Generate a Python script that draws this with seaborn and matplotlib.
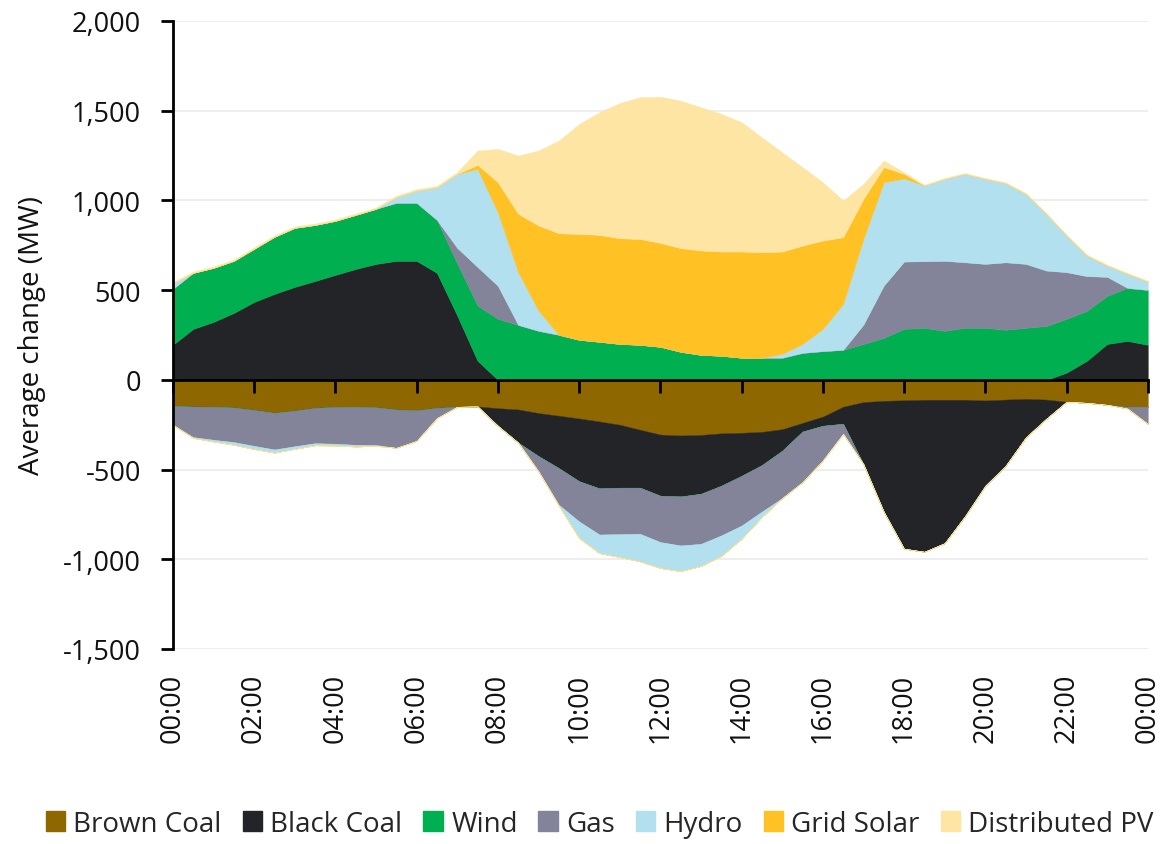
import numpy as np
import seaborn as sns
import matplotlib.pyplot as plt
from matplotlib.patches import Patch

# half-hourly time steps, 00:00 .. 24:00 (hours)
hours = np.arange(49) * 0.5

brown_coal = [-145, -149, -150, -154, -168, -184, -172, -156, -151, -150, -153, -165, -170,
              -156, -150, -148, -158, -165, -185, -200, -215, -232, -250, -278, -305, -310,
              -307, -298, -295, -290, -275, -240, -205, -150, -124, -117, -114, -111, -111,
              -111, -115, -110, -106, -110, -122, -128, -139, -150, -150]
black_coal = [195, 284, 323, 373, 434, 479, 518, 551, 585, 618, 646, 663, 663, 596, 358, 106,
              -98, -185, -240, -292, -350, -373, -351, -323, -341, -340, -328, -292, -240,
              -185, -120, -48, -51, -95, -346, -618, -827, -847, -799, -649, -475, -369, -214,
              -107, 40, 106, 200, 217, 195]
wind = [312, 312, 301, 290, 296, 318, 329, 312, 301, 301, 307, 323, 323, 295, 290, 308, 340,
        306, 273, 251, 223, 212, 200, 195, 184, 156, 139, 134, 123, 123, 123, 150, 160, 167,
        200, 234, 284, 290, 273, 290, 290, 279, 290, 300, 300, 278, 268, 295, 306]
gas = [-105, -170, -184, -193, -200, -204, -198, -197, -205, -212, -210, -214, -170, -57, 87,
       215, 184, 0, -85, -204, -224, -257, -259, -257, -258, -273, -279, -277, -277, -259,
       -264, -282, -193, -56, 108, 291, 375, 371, 390, 365, 356, 376, 356, 309, 260, 194, 106,
       -10, -95]
hydro = [30, -5, -10, -15, -18, -18, -15, -12, -10, -10, -5, 32, 69, 182, 413, 546, 410, 294,
         113, -5, -93, -104, -128, -154, -145, -143, -124, -115, -74, -31, 22, 50, 124, 256,
         478, 576, 464, 422, 457, 493, 474, 441, 390, 316, 204, 115, 63, 79, 47]
grid_solar = [0] * 15 + [23, 167, 325, 474, 566, 590, 596, 589, 590, 579, 578, 582, 581, 592,
                         588, 570, 548, 492, 372, 222, 84, 25] + [0] * 12
distributed_pv = [8] * 14 + [10, 80, 186, 325, 418, 516, 613, 683, 754, 790, 815, 822, 798,
                             767, 721, 640, 553, 437, 325, 204, 84, 37, 9] + [5] * 12

names = ["Brown Coal", "Black Coal", "Wind", "Gas", "Hydro", "Grid Solar", "Distributed PV"]
series = [brown_coal, black_coal, wind, gas, hydro, grid_solar, distributed_pv]
colors = ["#8F6700", "#232427", "#00AF50", "#838499", "#B2E0EE", "#FFC124", "#FFE5A4"]

xtick_hours = np.arange(0, 25, 2)
xtick_labels = [f"{h % 24:02d}:00" for h in xtick_hours]
yticks = np.arange(-1500, 2001, 500)

sns.set_theme(style="white")
plt.rcParams['font.family'] = ['Open Sans', 'DejaVu Sans']

fig = plt.figure(figsize=(11.76, 8.45), dpi=100)
ax = fig.add_axes([0.147, 0.2308, 0.829, 0.7432])

# light gridlines behind the areas
ax.hlines(yticks[yticks != 0], 0, 24, color="#EEEEEE", lw=1.5, zorder=0.5)

# positive and negative parts stacked separately
pos_base = np.zeros(len(hours))
neg_base = np.zeros(len(hours))
for vals, col in zip(series, colors):
    v = np.array(vals, dtype=float)
    pos = np.clip(v, 0, None)
    neg = np.clip(v, None, 0)
    ax.fill_between(hours, pos_base, pos_base + pos, color=col, lw=0.3, edgecolor=col, zorder=2)
    ax.fill_between(hours, neg_base, neg_base + neg, color=col, lw=0.3, edgecolor=col, zorder=2)
    pos_base += pos
    neg_base += neg

ax.set_xlim(0, 24)
ax.set_ylim(-1500, 2000)
ax.set_yticks(yticks)
ax.yaxis.set_major_formatter(plt.FuncFormatter(lambda v, p: f"{v:,.0f}"))
ax.grid(False)
ax.set_axisbelow(False)

for s in ["top", "right"]:
    ax.spines[s].set_visible(False)
ax.spines["left"].set_color("black")
ax.spines["left"].set_linewidth(2)
ax.spines["bottom"].set_position(("data", 0))
ax.spines["bottom"].set_color("black")
ax.spines["bottom"].set_linewidth(2)
ax.spines["bottom"].set_zorder(5)

ax.set_xticks(xtick_hours)
ax.tick_params(axis="x", direction="out", length=9, width=2, color="black",
               labelbottom=False, bottom=True)
ax.tick_params(axis="y", direction="out", length=9, width=2, color="black",
               left=True, labelsize=19.5, pad=14, labelcolor="#111111")

sec = ax.secondary_xaxis("bottom")
sec.set_xticks(xtick_hours)
sec.set_xticklabels(xtick_labels, rotation=90, fontsize=19.5, color="#111111")
sec.tick_params(length=0, pad=17)
sec.spines["bottom"].set_visible(False)

ax.set_ylabel("Average change (MW)", fontsize=20, color="#111111", labelpad=12)

handles = [Patch(facecolor=c, edgecolor=c) for c in colors]
fig.legend(handles, names, loc="lower center", bbox_to_anchor=(0.51, -0.022), ncol=7,
           frameon=False, fontsize=20, handlelength=0.7, handleheight=0.7,
           handletextpad=0.3, columnspacing=0.75)

fig.savefig("out.png", dpi=100)
